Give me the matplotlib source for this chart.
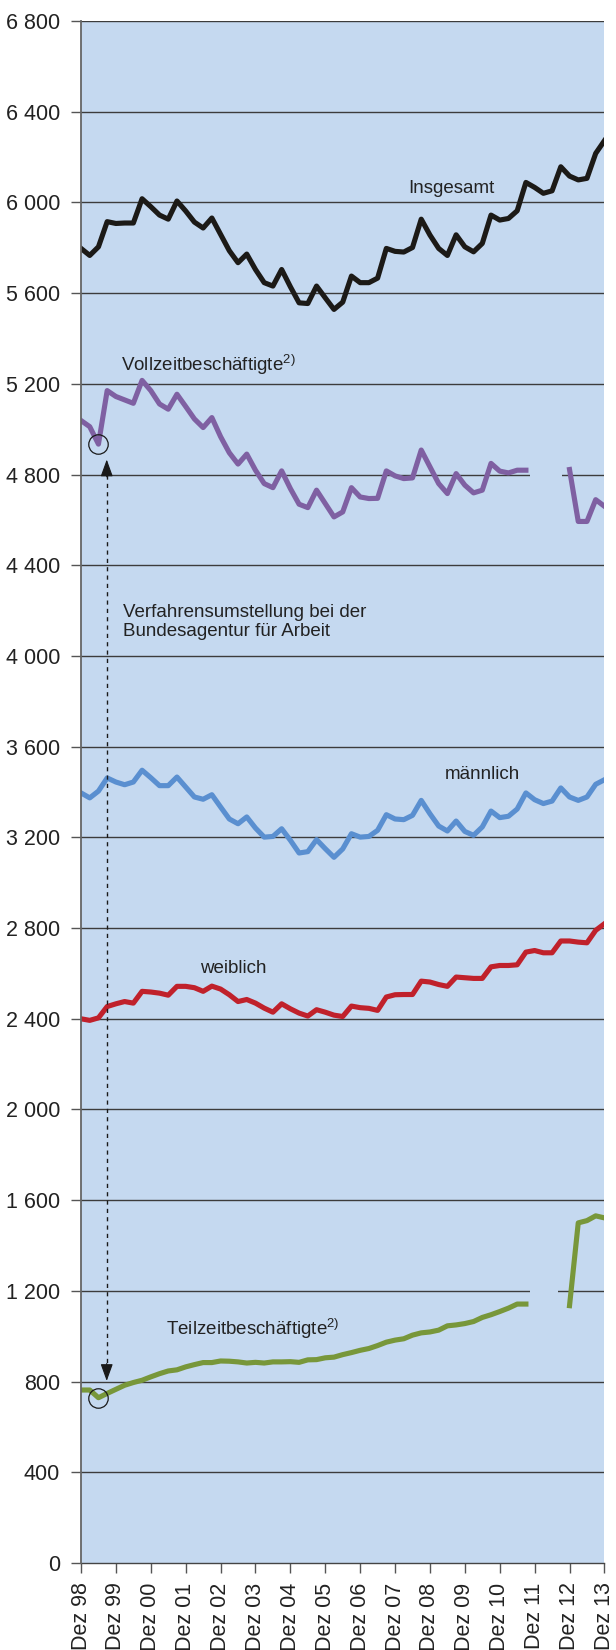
import numpy as np
import matplotlib
matplotlib.use("Agg")
import matplotlib.pyplot as plt
from matplotlib.patches import Rectangle

plt.rcParams['font.family'] = ['Liberation Sans', 'DejaVu Sans']

# --- DATA (quarterly, Dez 98 .. Dez 13, in Tausend) ---
year_labels = ["Dez 98", "Dez 99", "Dez 00", "Dez 01", "Dez 02", "Dez 03", "Dez 04", "Dez 05",
               "Dez 06", "Dez 07", "Dez 08", "Dez 09", "Dez 10", "Dez 11", "Dez 12", "Dez 13"]

insgesamt = [5797, 5766, 5804, 5915, 5907, 5909, 5909, 6016, 5981, 5944, 5926, 6006, 5962, 5913,
             5887, 5931, 5859, 5787, 5734, 5772, 5704, 5646, 5631, 5704, 5628, 5557, 5554, 5631,
             5579, 5528, 5560, 5675, 5646, 5646, 5666, 5797, 5784, 5781, 5801, 5926, 5856, 5797,
             5766, 5857, 5804, 5782, 5819, 5944, 5922, 5929, 5963, 6088, 6066, 6040, 6051, 6157,
             6116, 6099, 6106, 6216, 6272]

vollzeit = [5038, 5011, 4934, 5170, 5144, 5129, 5114, 5215, 5170, 5111, 5088, 5154, 5100, 5045,
            5007, 5051, 4967, 4896, 4846, 4890, 4819, 4760, 4742, 4816, 4738, 4669, 4654, 4731,
            4672, 4613, 4635, 4742, 4701, 4694, 4695, 4816, 4794, 4782, 4785, 4908, 4834, 4760,
            4716, 4804, 4753, 4719, 4731, 4849, 4815, 4807, 4819, 4819, None, None, None, None,
            4822, 4593, 4593, 4689, 4660]

maennlich = [3396, 3374, 3404, 3462, 3444, 3432, 3444, 3496, 3463, 3428, 3428, 3466, 3422, 3378,
             3368, 3388, 3334, 3281, 3260, 3290, 3241, 3201, 3204, 3238, 3187, 3131, 3137, 3190,
             3150, 3112, 3149, 3216, 3201, 3204, 3231, 3300, 3281, 3278, 3297, 3363, 3304, 3250,
             3228, 3272, 3226, 3209, 3246, 3316, 3287, 3293, 3325, 3396, 3366, 3349, 3360, 3418,
             3378, 3363, 3378, 3434, 3454]

weiblich = [2400, 2393, 2404, 2454, 2466, 2476, 2469, 2521, 2518, 2513, 2504, 2543, 2543, 2537,
            2521, 2544, 2531, 2506, 2476, 2485, 2469, 2447, 2429, 2466, 2444, 2425, 2412, 2440,
            2429, 2416, 2410, 2456, 2449, 2446, 2437, 2496, 2506, 2507, 2507, 2566, 2562, 2551,
            2543, 2584, 2581, 2578, 2578, 2629, 2635, 2635, 2638, 2694, 2701, 2691, 2691, 2743,
            2743, 2738, 2735, 2790, 2819]

teilzeit = [763, 763, 729, 748, 766, 784, 796, 806, 821, 835, 847, 852, 865, 875,
            884, 884, 891, 890, 887, 882, 885, 882, 887, 887, 888, 885, 896, 897,
            905, 908, 919, 928, 938, 946, 959, 974, 983, 989, 1005, 1015, 1019, 1027,
            1046, 1050, 1056, 1065, 1083, 1095, 1109, 1124, 1142, 1142, None, None, None, None,
            1135, 1500, 1510, 1531, 1522]

y_ticks = [0, 400, 800, 1200, 1600, 2000, 2400, 2800, 3200, 3600, 4000, 4400, 4800, 5200,
           5600, 6000, 6400, 6800]


def arr(v):
    return np.array([np.nan if x is None else x for x in v], dtype=float)


BG = '#c5d9f0'
GRID = '#3c3c3c'

fig = plt.figure(figsize=(6.16, 16.5), dpi=100)
ax = fig.add_axes([0.1315, 0.0527, 0.8497, 0.9346])
ax.set_facecolor(BG)

x = np.arange(len(insgesamt))

# grid
for yv in y_ticks[1:]:
    ax.axhline(yv, color=GRID, lw=1.0, zorder=1)

# gridline gaps around the series break
ax.add_patch(Rectangle((51.45, 4760), 3.7, 80, facecolor=BG, edgecolor='none', zorder=1.5))
ax.add_patch(Rectangle((51.45, 1160), 3.2, 80, facecolor=BG, edgecolor='none', zorder=1.5))

lw = 3.7
ax.plot(x, arr(insgesamt), color='#1c1a17', lw=lw, zorder=3)
ax.plot(x, arr(vollzeit), color='#7f60a2', lw=lw, zorder=3)
ax.plot(x, arr(maennlich), color='#5a8fd0', lw=lw, zorder=3)
ax.plot(x, arr(weiblich), color='#c0212b', lw=lw, zorder=3)
ax.plot(x, arr(teilzeit), color='#78973a', lw=lw, zorder=3)

# circles at the break point
ax.plot([2], [vollzeit[2]], marker='o', ms=14, mfc='none', mec='#1a1a1a', mew=0.9, zorder=4)
ax.plot([2], [teilzeit[2]], marker='o', ms=14, mfc='none', mec='#1a1a1a', mew=0.9, zorder=4)

# dashed double arrow
ax.plot([2.95, 2.95], [4800, 870], color='#1a1a1a', lw=1.0, ls=(0, (3, 3)), zorder=4)
ax.annotate('', xy=(2.95, 4866), xytext=(2.95, 4790),
            arrowprops=dict(arrowstyle='-|>,head_length=1.05,head_width=0.38',
                            color='#1a1a1a', lw=0.8, shrinkA=0, shrinkB=0), zorder=4)
ax.annotate('', xy=(2.95, 803), xytext=(2.95, 880),
            arrowprops=dict(arrowstyle='-|>,head_length=1.05,head_width=0.38',
                            color='#1a1a1a', lw=0.8, shrinkA=0, shrinkB=0), zorder=4)

tc = '#222222'
fs = 13.5
ax.text(42.4, 6062, "Insgesamt", fontsize=fs, color=tc, ha='center', va='center')
ax.text(4.6, 5285, r"Vollzeitbeschäftigte$^{\mathregular{2)}}$", fontsize=fs, color=tc,
        ha='left', va='center')
ax.text(4.8, 4150, "Verfahrensumstellung bei der\nBundesagentur für Arbeit", fontsize=fs,
        color=tc, ha='left', va='center', linespacing=1.2)
ax.text(46.0, 3478, "männlich", fontsize=fs, color=tc, ha='center', va='center')
ax.text(17.4, 2623, "weiblich", fontsize=fs, color=tc, ha='center', va='center')
ax.text(9.7, 1035, r"Teilzeitbeschäftigte$^{\mathregular{2)}}$", fontsize=fs, color=tc,
        ha='left', va='center')

# axes
ax.set_xlim(0, len(insgesamt) - 1)
ax.set_ylim(0, 6800)
ax.set_yticks(y_ticks)
ax.set_yticklabels([f"{v:,}".replace(",", " ") for v in y_ticks])
ax.set_xticks(np.arange(0, len(insgesamt), 4))
ax.set_xticklabels(year_labels, rotation=90, va='top', ha='center')

for s in ['top', 'right']:
    ax.spines[s].set_visible(False)
ax.spines['left'].set_color('#666666')
ax.spines['left'].set_linewidth(1.3)
ax.spines['bottom'].set_color('#444444')
ax.spines['bottom'].set_linewidth(1.0)
ax.spines['left'].set_zorder(5)

ax.tick_params(axis='y', length=7, width=1.0, color='#555555', pad=8, labelsize=15.5,
               labelcolor='#222222')
ax.tick_params(axis='x', length=7, width=1.0, color='#555555', pad=7, labelsize=15.5,
               labelcolor='#222222')

fig.savefig("out.png", dpi=100)
